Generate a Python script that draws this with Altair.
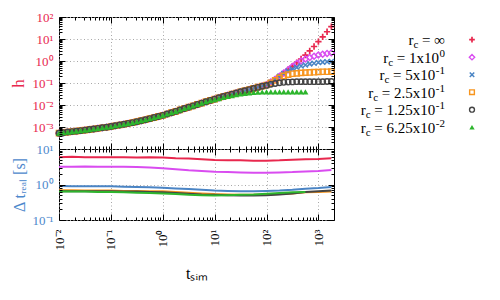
import altair as alt
import pandas as pd

# ---------------- data ----------------
T = [0.01, 0.0121, 0.0147, 0.0178, 0.0215, 0.0261, 0.0316, 0.0383, 0.0464, 0.0562, 0.0681, 0.0825,
     0.1, 0.121, 0.147, 0.178, 0.215, 0.261, 0.316, 0.383, 0.464, 0.562, 0.681, 0.825,
     1.0, 1.21, 1.47, 1.78, 2.15, 2.61, 3.16, 3.83, 4.64, 5.62, 6.81, 8.25,
     10.0, 12.1, 14.7, 17.8, 21.5, 26.1, 31.6, 38.3, 46.4, 56.2, 68.1, 82.5,
     100, 121, 147, 178, 215, 261, 316, 383, 464, 562, 681, 825,
     1000, 1210, 1470, 1780]

# early part: all six series overlap in one band
H_SHARED = [5.25e-4, 5.50e-4, 5.89e-4, 6.17e-4, 6.46e-4, 6.84e-4, 7.24e-4, 7.67e-4, 8.13e-4, 8.71e-4, 9.23e-4, 9.77e-4,
            1.05e-3, 1.14e-3, 1.23e-3, 1.33e-3, 1.46e-3, 1.58e-3, 1.74e-3, 1.93e-3, 2.14e-3, 2.40e-3, 2.69e-3, 3.02e-3,
            3.39e-3, 3.89e-3, 4.47e-3, 5.13e-3, 5.96e-3, 6.92e-3, 7.94e-3, 9.12e-3, 1.06e-2, 1.22e-2, 1.41e-2, 1.62e-2]

H_INF = [1.86e-2, 2.14e-2, 2.43e-2, 2.75e-2, 3.09e-2, 3.51e-2, 3.98e-2, 4.47e-2, 5.01e-2, 5.69e-2, 6.46e-2, 7.24e-2,
         8.32e-2, 0.110, 0.148, 0.204, 0.282, 0.407, 0.589, 0.851, 1.23, 1.86, 2.88, 4.57, 7.59, 12.6, 21.4, 36.3]
H_1 = [1.86e-2, 2.14e-2, 2.43e-2, 2.75e-2, 3.09e-2, 3.51e-2, 3.98e-2, 4.47e-2, 5.01e-2, 5.69e-2, 6.46e-2, 7.24e-2,
       8.32e-2, 0.110, 0.148, 0.204, 0.282, 0.398, 0.562, 0.776, 1.00, 1.23, 1.45, 1.66, 1.86, 2.04, 2.19, 2.34]
H_05 = [1.86e-2, 2.14e-2, 2.43e-2, 2.75e-2, 3.09e-2, 3.51e-2, 3.98e-2, 4.47e-2, 5.01e-2, 5.69e-2, 6.46e-2, 7.24e-2,
        8.32e-2, 0.107, 0.141, 0.200, 0.269, 0.347, 0.427, 0.513, 0.589, 0.661, 0.741, 0.794, 0.851, 0.891, 0.933, 0.955]
H_025 = [1.86e-2, 2.14e-2, 2.43e-2, 2.75e-2, 3.09e-2, 3.51e-2, 3.98e-2, 4.47e-2, 5.01e-2, 5.69e-2, 6.46e-2, 7.24e-2,
         8.13e-2, 0.102, 0.132, 0.170, 0.209, 0.240, 0.263, 0.275, 0.288, 0.295, 0.302, 0.309, 0.316, 0.324, 0.324, 0.331]
H_0125 = [1.86e-2, 2.14e-2, 2.43e-2, 2.75e-2, 3.09e-2, 3.51e-2, 3.98e-2, 4.47e-2, 5.01e-2, 5.62e-2, 6.31e-2, 7.08e-2,
          7.76e-2, 8.71e-2, 9.55e-2, 0.102, 0.107, 0.110, 0.112, 0.115, 0.115, 0.115, 0.115, 0.115, 0.115, 0.115, 0.117, 0.117]
H_00625 = [1.74e-2, 1.95e-2, 2.19e-2, 2.43e-2, 2.69e-2, 2.95e-2, 3.16e-2, 3.39e-2, 3.55e-2, 3.72e-2, 3.80e-2, 3.89e-2,
           3.98e-2, 3.98e-2, 3.98e-2, 3.98e-2, 3.98e-2, 3.98e-2, 3.98e-2, 3.98e-2, 3.98e-2, 3.98e-2]

T_DT = [0.01, 0.0178, 0.0316, 0.0562, 0.1, 0.178, 0.316, 0.562, 1.0, 1.78, 3.16, 5.62,
        10.0, 17.8, 31.6, 56.2, 100, 178, 316, 562, 1000, 1780]
DT_INF = [5.89, 6.03, 5.89, 5.89, 5.89, 5.89, 5.75, 5.89, 5.75, 5.50, 5.37, 5.13,
          4.90, 4.79, 4.79, 4.68, 4.68, 4.79, 5.01, 5.13, 5.25, 5.50]
DT_1 = [3.16, 3.16, 3.24, 3.16, 3.16, 3.16, 3.09, 3.02, 2.88, 2.69, 2.51, 2.40,
        2.29, 2.24, 2.19, 2.14, 2.14, 2.19, 2.24, 2.34, 2.40, 2.57]
DT_05 = [0.912, 0.891, 0.891, 0.891, 0.891, 0.871, 0.851, 0.832, 0.813, 0.776, 0.741, 0.708,
         0.676, 0.661, 0.646, 0.646, 0.661, 0.676, 0.708, 0.759, 0.794, 0.851]
DT_025 = [0.692, 0.692, 0.676, 0.676, 0.676, 0.661, 0.661, 0.646, 0.646, 0.617, 0.589, 0.562,
          0.537, 0.525, 0.513, 0.513, 0.525, 0.537, 0.562, 0.603, 0.617, 0.631]
DT_0125 = [0.646, 0.646, 0.646, 0.646, 0.646, 0.631, 0.631, 0.617, 0.603, 0.575, 0.550, 0.525,
           0.513, 0.501, 0.490, 0.490, 0.501, 0.525, 0.562, 0.617, 0.646, 0.676]
DT_00625 = [0.631, 0.631, 0.631, 0.617, 0.617, 0.603, 0.589, 0.575, 0.562, 0.537, 0.513, 0.501,
            0.490, 0.501, 0.513, 0.525, 0.550, 0.575, 0.603, 0.617]

H_SERIES = [H_SHARED + H_INF, H_SHARED + H_1, H_SHARED + H_05,
            H_SHARED + H_025, H_SHARED + H_0125, H_SHARED + H_00625]
DT_SERIES = [DT_INF, DT_1, DT_05, DT_025, DT_0125, DT_00625]

LEG_MAIN = ["= \u221e", "= 1x10", "= 5x10", "= 2.5x10", "= 1.25x10", "= 6.25x10"]
LEG_EXP = ["", "0", "-1", "-1", "-1", "-2"]

X_MAJOR = [0.01, 0.1, 1, 10, 100, 1000]
X_LABELS = ["10\u207b\u00b2", "10\u207b\u00b9", "10\u2070", "10\u00b9", "10\u00b2", "10\u00b3"]
H_LABEL_VALUES = [1e-3, 1e-2, 1e-1, 1, 10, 100]
H_LABELS = ["10\u207b\u00b3", "10\u207b\u00b2", "10\u207b\u00b9", "10\u2070", "10\u00b9", "10\u00b2"]
DT_LABEL_VALUES = [0.1, 1, 10]
DT_LABELS = ["10\u207b\u00b9", "10\u2070", "10\u00b9"]

# ---------------- style ----------------
FONT = "Liberation Serif"
COLORS = ["#e8284e", "#d94cf0", "#4a84c4", "#f7951e", "#444444", "#2db52d"]
RED_TXT = "#e8284e"
BLUE_TXT = "#4d88cc"
MARKS = [
    dict(shape="M-1,0L1,0M0,-1L0,1", filled=False, size=40, strokeWidth=1.7),
    dict(shape="diamond", filled=False, size=36, strokeWidth=1.4),
    dict(shape="M-1,-1L1,1M-1,1L1,-1", filled=False, size=25, strokeWidth=1.5),
    dict(shape="square", filled=False, size=28, strokeWidth=1.4),
    dict(shape="circle", filled=False, size=30, strokeWidth=1.4),
    dict(shape="triangle-up", filled=True, size=36, strokeWidth=0),
]
W, HT, HB = 275, 132, 71
X_DOMAIN = [0.01, 2000]
TICK_MAJOR, TICK_MINOR = 6, 3
X_MINOR = [m * 10.0 ** e for e in range(-2, 4) for m in range(2, 10) if m * 10.0 ** e < 2000]
H_MAJOR = [1e-4, 1e-3, 1e-2, 1e-1, 1, 10, 100]
H_MINOR = [m * 10.0 ** e for e in range(-4, 2) for m in range(2, 10)]
DT_MAJOR = [0.1, 1, 10]
DT_MINOR = [m * 10.0 ** e for e in (-1, 0) for m in range(2, 10)]

GRID = dict(grid=True, gridDash=[1, 2.5], gridColor="#a8a8a8", gridWidth=1)


def label_expr(values, labels):
    expr = "''"
    for v, lab in zip(values, labels):
        expr = f"(abs(datum.value / {v!r} - 1) < 0.01) ? '{lab}' : ({expr})"
    return expr


xscale = alt.Scale(type="log", domain=X_DOMAIN, nice=False)
hscale = alt.Scale(type="log", domain=[1e-4, 100], nice=False)
dtscale = alt.Scale(type="log", domain=[0.1, 10], nice=False)


def tick_layers(df, xf, yf, yscale, ymaj, ymin, h):
    out = []
    for xo, yo in (("top", "right"), ("bottom", "left")):
        for xv, yv, size in ((X_MAJOR, ymaj, TICK_MAJOR), (X_MINOR, ymin, TICK_MINOR)):
            out.append(alt.Chart(df).mark_point(opacity=0).encode(
                x=alt.X(f"{xf}:Q", scale=xscale, axis=alt.Axis(
                    orient=xo, offset=-h, values=xv, tickSize=size, tickColor="black",
                    tickWidth=1, labels=False, domain=False, grid=False, title=None, zindex=2)),
                y=alt.Y(f"{yf}:Q", scale=yscale, axis=alt.Axis(
                    orient=yo, offset=-W, values=yv, tickSize=size, tickColor="black",
                    tickWidth=1, labels=False, domain=False, grid=False, title=None, zindex=2)),
            ))
    return out


# ---------------- top panel: h ----------------
top_layers = []
for i, hs in enumerate(H_SERIES):
    df = pd.DataFrame({"t": T[:len(hs)], "h": hs})
    st = MARKS[i]
    if i == 0:
        xa = alt.Axis(orient="bottom", values=X_MAJOR, ticks=False, domain=False,
                      labels=False, title=None, **GRID)
        ya = alt.Axis(orient="left", values=H_LABEL_VALUES, ticks=False, domain=False,
                      labelExpr=label_expr(H_LABEL_VALUES, H_LABELS), labelColor=RED_TXT,
                      labelPadding=6, labelFlush=False, labelOverlap=False,
                      title="h", titleColor=RED_TXT, titlePadding=5, titleFontSize=17, **GRID)
    else:
        xa = None
        ya = None
    mk = alt.Chart(df).mark_point(
        shape=st["shape"], filled=st["filled"], size=st["size"],
        strokeWidth=st["strokeWidth"], color=COLORS[i], opacity=1)
    top_layers.append(mk.encode(
        x=alt.X("t:Q", scale=xscale, axis=xa),
        y=alt.Y("h:Q", scale=hscale, axis=ya)))
    if i == 0:
        red_df = df

top = alt.layer(*top_layers, *tick_layers(red_df, "t", "h", hscale, H_MAJOR, H_MINOR, HT)).resolve_axis(
    x="independent", y="independent").properties(width=W, height=HT)

# ---------------- bottom panel: delta t_real ----------------
bot_layers = []
for i, ds in enumerate(DT_SERIES):
    df = pd.DataFrame({"t": T_DT[:len(ds)], "v": ds})
    if i == 0:
        xa = alt.Axis(orient="bottom", values=X_MAJOR, ticks=False, domain=False,
                      labelExpr=label_expr(X_MAJOR, X_LABELS), labelAngle=270,
                      labelPadding=9, labelFlush=False, labelOverlap=False,
                      title="t\u209b\u1d62\u2098", titlePadding=16, titleFontSize=16, **GRID)
        ya = alt.Axis(orient="left", values=DT_LABEL_VALUES, ticks=False, domain=False,
                      labelExpr=label_expr(DT_LABEL_VALUES, DT_LABELS), labelColor=BLUE_TXT,
                      labelPadding=6, labelFlush=False, labelOverlap=False,
                      title="\u0394 t\u1d63\u2091\u2090\u2097 [s]", titleColor=BLUE_TXT,
                      titlePadding=5, titleFontSize=16, **GRID)
        red_dt = df
    else:
        xa = None
        ya = None
    bot_layers.append(alt.Chart(df).mark_line(color=COLORS[i], strokeWidth=2).encode(
        x=alt.X("t:Q", scale=xscale, axis=xa),
        y=alt.Y("v:Q", scale=dtscale, axis=ya)))

bottom = alt.layer(*bot_layers, *tick_layers(red_dt, "t", "v", dtscale, DT_MAJOR, DT_MINOR, HB)).resolve_axis(
    x="independent", y="independent").properties(width=W, height=HB)

# ---------------- key (right-aligned labels with sub/superscripts) ----------------
FS_MAIN, FS_SMALL = 15, 11
CW = {" ": 0.25, "=": 0.564, "\u221e": 0.713, "0": 0.5, "1": 0.5, "2": 0.5, "5": 0.5, "6": 0.5,
      "x": 0.5, ".": 0.25, "-": 0.333, "c": 0.444, "r": 0.333}


def tw(s, size):
    return sum(CW[ch] for ch in s) * size


LEG_W = 150
LEG_TEXT_X = 105.0
LEG_MARK_X = 132.0
LEG_ROW0, LEG_ROW_STEP = 22.7, 17.5

pieces = []
for i, (main, ex) in enumerate(zip(LEG_MAIN, LEG_EXP)):
    x_main = LEG_TEXT_X - (tw(ex, FS_SMALL) + 0.5 if ex else 0)
    x_c = x_main - tw(main, FS_MAIN) - tw(" ", FS_MAIN)
    x_r = x_c - tw("c", FS_SMALL)
    pieces.append({"row": i, "text": "r", "x": x_r, "kind": "main"})
    pieces.append({"row": i, "text": main, "x": x_main, "kind": "main"})
    pieces.append({"row": i, "text": "c", "x": x_c, "kind": "sub"})
    if ex:
        pieces.append({"row": i, "text": ex, "x": LEG_TEXT_X, "kind": "sup"})
leg_df = pd.DataFrame(pieces)

lxs = alt.Scale(domain=[0, LEG_W], nice=False, zero=False)
lys = alt.Scale(domain=[-LEG_ROW0 / LEG_ROW_STEP, (HT - LEG_ROW0) / LEG_ROW_STEP],
                nice=False, zero=False, reverse=True)


def leg_text(kind, size, dy):
    return alt.Chart(leg_df).transform_filter(alt.datum.kind == kind).mark_text(
        align="right", baseline="alphabetic", font=FONT, fontSize=size, dy=dy, color="black"
    ).encode(x=alt.X("x:Q", scale=lxs, axis=None), y=alt.Y("row:Q", scale=lys, axis=None),
             text="text:N")


leg_layers = [leg_text("main", FS_MAIN, 5.5), leg_text("sub", FS_SMALL, 8.5), leg_text("sup", FS_SMALL, -0.5)]
for i in range(len(LEG_MAIN)):
    st = MARKS[i]
    mdf = pd.DataFrame({"row": [i], "x": [LEG_MARK_X]})
    leg_layers.append(alt.Chart(mdf).mark_point(
        shape=st["shape"], filled=st["filled"], size=st["size"] * 0.8,
        strokeWidth=st["strokeWidth"], color=COLORS[i], opacity=1).encode(
        x=alt.X("x:Q", scale=lxs, axis=None), y=alt.Y("row:Q", scale=lys, axis=None)))

legend = alt.layer(*leg_layers).properties(
    width=LEG_W, height=HT, view=alt.ViewBackground(stroke="transparent"))

chart = alt.hconcat(
    alt.vconcat(top, bottom, spacing=0, bounds="flush"),
    legend,
    spacing=0,
).properties(
    padding={"left": 0, "top": 2, "right": 0, "bottom": 0}
).configure_view(
    stroke="black", strokeWidth=1
).configure_axis(
    labelFont=FONT, titleFont=FONT, labelFontSize=13, titleFontWeight="normal",
    labelColor="black", titleColor="black"
)

chart.save("out.html", embed_options={"renderer": "svg", "actions": False})
